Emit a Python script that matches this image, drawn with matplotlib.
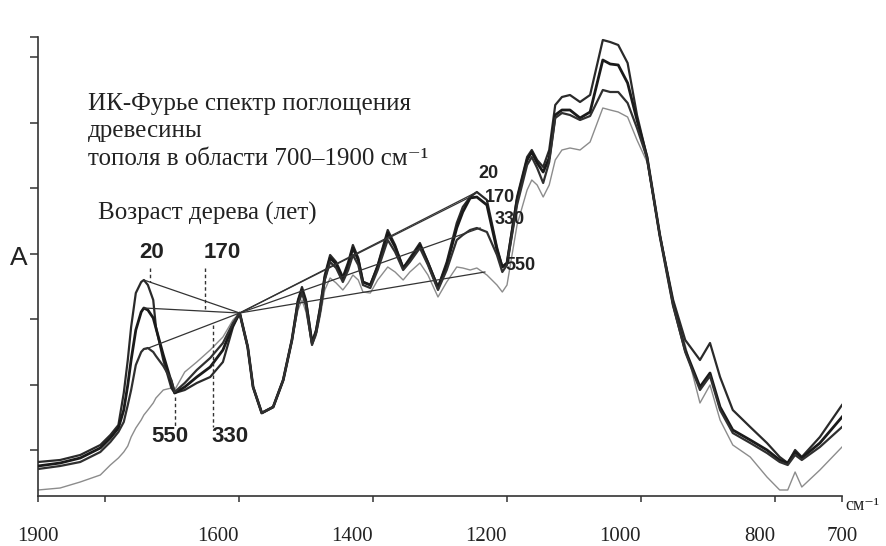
import numpy as np
import matplotlib.pyplot as plt

# ИК-Фурье спектры древесины тополя разного возраста
wavenumber = [1900, 1867, 1837, 1807, 1792, 1780, 1772, 1766, 1761, 1754, 1746, 1742,
              1736, 1728, 1724, 1713, 1701, 1696, 1681, 1663, 1643, 1624, 1609, 1599,
              1587, 1579, 1566, 1549, 1534, 1521, 1512, 1506, 1500, 1491, 1485, 1479,
              1472, 1464, 1455, 1445, 1437, 1430, 1422, 1415, 1404, 1393, 1378, 1367,
              1355, 1345, 1330, 1318, 1303, 1290, 1275, 1266, 1255, 1245, 1230, 1215,
              1207, 1200, 1185, 1170, 1163, 1155, 1146, 1137, 1128, 1118, 1106, 1091,
              1076, 1057, 1046, 1034, 1020, 1006, 991, 972, 952, 934, 912, 897,
              882, 863, 837, 812, 793, 781, 770, 760, 733, 700]

a_20 = [.038, .040, .045, .055, .065, .075, .107, .140, .173, .207, .218, .220,
        .215, .200, .173, .140, .112, .107, .110, .117, .123, .138, .173, .187,
        .153, .113, .087, .093, .120, .160, .200, .213, .200, .158, .170, .193,
        .225, .245, .238, .223, .238, .255, .242, .218, .215, .235, .270, .255,
        .232, .242, .257, .238, .213, .238, .277, .293, .303, .308, .300, .253,
        .233, .237, .303, .343, .350, .340, .333, .350, .395, .403, .405, .398,
        .405, .460, .458, .455, .437, .385, .343, .265, .200, .160, .140, .157,
        .123, .090, .073, .057, .043, .037, .050, .043, .063, .095]

a_170 = [.034, .037, .042, .052, .062, .072, .090, .115, .140, .170, .188, .192,
         .190, .182, .172, .145, .118, .107, .113, .123, .133, .150, .175, .187,
         .153, .113, .087, .093, .120, .160, .198, .210, .197, .157, .168, .190,
         .222, .242, .236, .221, .235, .252, .240, .218, .215, .233, .267, .253,
         .232, .240, .255, .237, .212, .235, .272, .288, .302, .303, .295, .250,
         .233, .237, .300, .340, .348, .337, .328, .342, .385, .390, .390, .382,
         .388, .440, .436, .435, .417, .380, .343, .265, .195, .150, .113, .127,
         .093, .070, .060, .050, .040, .037, .048, .042, .057, .083]

a_330 = [.031, .034, .038, .048, .058, .068, .078, .095, .110, .135, .148, .151,
         .152, .148, .144, .134, .120, .108, .117, .130, .142, .157, .177, .187,
         .153, .113, .087, .093, .120, .160, .195, .207, .194, .155, .167, .188,
         .220, .238, .232, .218, .230, .245, .235, .215, .212, .230, .260, .248,
         .230, .238, .252, .235, .210, .230, .260, .265, .270, .272, .268, .245,
         .228, .235, .295, .335, .343, .332, .317, .338, .382, .387, .385, .380,
         .384, .410, .408, .408, .397, .372, .342, .265, .195, .148, .110, .124,
         .090, .067, .057, .047, .038, .035, .045, .040, .053, .073]

a_550 = [.010, .012, .018, .025, .035, .042, .048, .054, .063, .072, .080, .085,
         .090, .097, .102, .110, .112, .110, .128, .138, .150, .163, .180, .187,
         .153, .113, .087, .093, .120, .160, .190, .200, .188, .155, .164, .183,
         .210, .222, .217, .210, .217, .225, .220, .208, .207, .220, .233, .228,
         .220, .228, .237, .225, .203, .218, .233, .232, .230, .232, .225, .215,
         .208, .215, .275, .310, .320, .315, .303, .315, .340, .350, .352, .350,
         .358, .392, .390, .388, .383, .360, .338, .265, .200, .155, .097, .115,
         .080, .055, .043, .023, .010, .010, .028, .013, .030, .053]

ages = ["20", "170", "330", "550"]

# базовые линии: от пика ~1740 к изосбестической точке и от неё к пику ~1245
iso_point = (1599, .187)
left_base_w = [1742, 1742, 1739]
left_base_a = [.220, .192, .151]
right_base_w = [1245, 1255, 1240, 1233]
right_base_a = [.308, .303, .272, .228]

# вертикальные штриховые отметки: (волновое число, от, до)
marks = [(1733, .232, .218), (1651, .232, .190), (1696, .103, .073), (1639, .175, .073)]

fig = plt.figure(figsize=(8.87, 5.46), dpi=100)
ax = fig.add_axes([38 / 887, 50 / 546, 804 / 887, 459 / 546])

ink = "#2a2a2a"
styles = {"20": (ink, 1.6), "170": ("#1a1a1a", 2.0), "330": ("#303030", 1.6), "550": ("#8c8c8c", 1.0)}
for age, vals in zip(ages, [a_20, a_170, a_330, a_550]):
    c, lw = styles[age]
    ax.plot(wavenumber, vals, color=c, lw=lw, zorder=3 if age != "550" else 2,
            solid_joinstyle="round")

for w, a in zip(left_base_w, left_base_a):
    ax.plot([w, iso_point[0]], [a, iso_point[1]], color="#333333", lw=0.9, zorder=4)
for w, a in zip(right_base_w, right_base_a):
    ax.plot([iso_point[0], w], [iso_point[1], a], color="#333333", lw=0.9, zorder=4)

for w, y0, y1 in marks:
    ax.plot([w, w], [y0, y1], color="#333333", lw=1.0, ls=(0, (2.5, 2)), zorder=4)

lab = dict(family="Liberation Sans", fontweight="bold", color="#222222")
ax.text(1730, .248, "20", ha="center", va="center", fontsize=16, **lab)
ax.text(1653, .248, "170", ha="left", va="center", fontsize=16, **lab)
ax.text(1703, .063, "550", ha="center", va="center", fontsize=16, **lab)
ax.text(1641, .063, "330", ha="left", va="center", fontsize=16, **lab)
ax.text(1243, .327, "20", ha="left", va="center", fontsize=13, **lab)
ax.text(1233, .303, "170", ha="left", va="center", fontsize=13, **lab)
ax.text(1218, .280, "330", ha="left", va="center", fontsize=13, **lab)
ax.text(1203, .235, "550", ha="left", va="center", fontsize=13, **lab)

ax.set_xlim(1900, 700)
ax.set_ylim(0.004, 0.463)
for s in ["top", "right"]:
    ax.spines[s].set_visible(False)
for s in ["left", "bottom"]:
    ax.spines[s].set_color("#333333")
    ax.spines[s].set_linewidth(1.2)

ax.set_yticks(list(0.05 + 0.0655 * np.arange(7)) + [0.463])
ax.set_yticklabels([])
ax.tick_params(axis="y", direction="out", length=6, width=1.1, color="#333333")

xt = [1900, 1600, 1400, 1200, 1000, 800, 700]
ax.set_xticks(xt)
ax.set_xticks([1800], minor=True)
ax.set_xticklabels([str(v) for v in xt], family="Liberation Serif", fontsize=15, color="#222222")
ax.tick_params(axis="x", which="both", direction="out", length=4, width=1.1, color="#333333", pad=18)
for t, v in zip(ax.get_xticklabels(), xt):
    if v not in (1900, 700):
        t.set_ha("right")

serif = ["Liberation Serif", "DejaVu Serif"]
title_lines = ["ИК-Фурье спектр поглощения", "древесины", "тополя в области 700–1900 см⁻¹"]
for i, line in enumerate(title_lines):
    fig.text(88 / 887, 1 - (110 + 27.5 * i) / 546, line, family=serif, fontsize=18,
             color="#222222", va="baseline")
fig.text(98 / 887, 1 - 220 / 546, "Возраст дерева (лет)", family=serif, fontsize=18,
         color="#222222", va="baseline")
fig.text(10 / 887, 1 - 258 / 546, "A", family="Liberation Sans", fontsize=19,
         color="#222222", va="center")
fig.text(845 / 887, 1 - 506 / 546, "см⁻¹", family=serif, fontsize=13,
         color="#222222", va="center")

fig.savefig("out.png", dpi=100)
